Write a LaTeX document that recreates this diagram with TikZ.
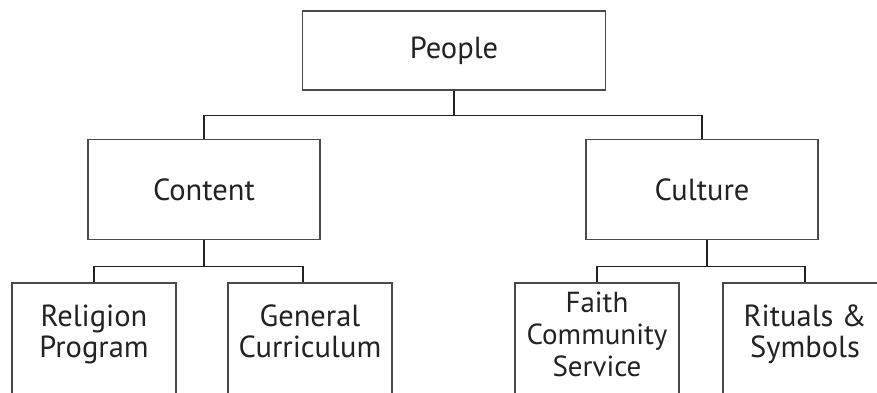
\documentclass[tikz,border=0pt]{standalone}
\usepackage{fontspec}
\setmainfont{PT Sans}
\usetikzlibrary{positioning}
\definecolor{boxgray}{HTML}{4A4A4A}
\definecolor{inkgray}{HTML}{222222}
\tikzset{
  box/.style={draw=boxgray, line width=1.5pt, minimum width=232pt, minimum height=100pt,
              align=center, text=inkgray, font=\fontsize{30.5}{31}\selectfont},
  leaf/.style={box, minimum width=164pt, minimum height=118pt, anchor=north},
  link/.style={draw=inkgray, line width=1.3pt}
}

\begin{document}
\begin{tikzpicture}[x=1pt,y=1pt]
            \useasboundingbox (0,0) rectangle (877,393);
            \clip (0,0) rectangle (877,393);

            \node (people)  [box, minimum width=303pt, minimum height=79pt] at (454,342.5) {People};
            \node (content) [box, below=48pt of people, xshift=-250pt] {Content};
            \node (culture) [box, below=48pt of people, xshift=248pt]  {Culture};

            % leaves run off the bottom edge, text sits high in them
            \node (religion) [leaf, below=42pt of content, xshift=-110pt, text depth=22pt] {Religion\\Program};
            \node (general)  [leaf, below=42pt of content, xshift=106pt, text depth=22pt]  {General\\Curriculum};
            \node (faith)    [leaf, below=42pt of culture, xshift=-105pt, text depth=15pt,
                              font=\fontsize{29}{32}\selectfont]       {Faith\\Community\\Service};
            \node (rituals)  [leaf, below=42pt of culture, xshift=103pt, text depth=22pt]  {Rituals \&\\Symbols};

            % top level
            \draw[link] (people.south) -- ++(0,-25) coordinate (pbar);
            \draw[link] (content.north) |- (pbar) -| (culture.north);

            % second level
            \draw[link] (content.south) -- ++(0,-26) coordinate (cbar);
            \draw[link] (religion.north) |- (cbar) -| ([xshift=-7pt]general.north);
            \draw[link] ([xshift=5pt]culture.south) -- ++(0,-26) coordinate (kbar);
            \draw[link] (faith.north) |- (kbar) -| (rituals.north);
\end{tikzpicture}
\end{document}
